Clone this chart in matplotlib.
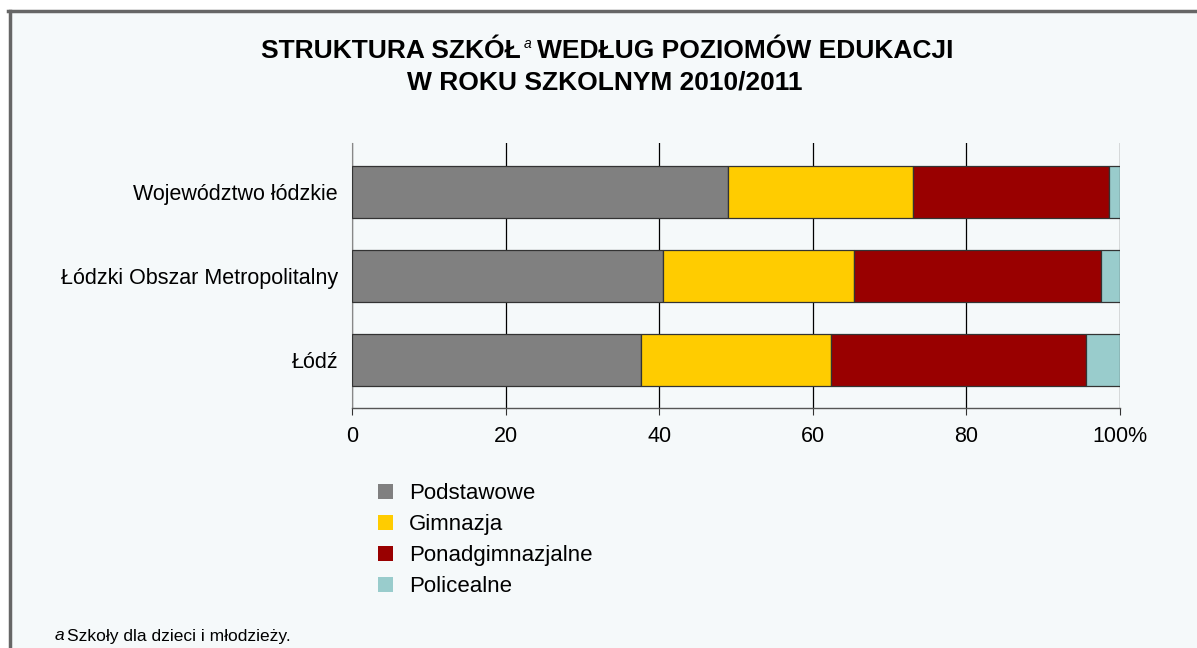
import matplotlib
matplotlib.use("Agg")
import matplotlib.pyplot as plt
from matplotlib.patches import Patch, Rectangle
from matplotlib.lines import Line2D

plt.rcParams["font.family"] = ["Liberation Sans", "DejaVu Sans"]

regions = ["Województwo łódzkie", "Łódzki Obszar Metropolitalny", "Łódź"]
series = ["Podstawowe", "Gimnazja", "Ponadgimnazjalne", "Policealne"]
podstawowe = [48.9, 40.5, 37.6]
gimnazja = [24.1, 24.8, 24.8]
ponadgimnazjalne = [25.6, 32.2, 33.2]
policealne = [1.4, 2.5, 4.4]
colors = ["#808080", "#FFCC00", "#990000", "#99CCCC"]
x_ticks = [0, 20, 40, 60, 80, 100]
x_tick_labels = ["0", "20", "40", "60", "80", "100%"]

BG = "#F5F9FA"

fig = plt.figure(figsize=(11.97, 6.48), dpi=100)
fig.patch.set_facecolor("white")

# panel background and grey frame (top + left only)
fig.patches.append(Rectangle((10 / 1197, 0), 1 - 10 / 1197, 1 - 12 / 648,
                             transform=fig.transFigure, facecolor=BG,
                             edgecolor="none", zorder=-2))
fig.lines.append(Line2D([9.5 / 1197, 9.5 / 1197], [0, 1 - 11 / 648],
                        transform=fig.transFigure, color="#666666", lw=2.5, zorder=-1))
fig.lines.append(Line2D([8 / 1197, 1], [1 - 11 / 648, 1 - 11 / 648],
                        transform=fig.transFigure, color="#666666", lw=2.5, zorder=-1))

ax = fig.add_axes([352 / 1197, 1 - 408 / 648, 768 / 1197, 265 / 648])
ax.set_facecolor(BG)

data = [podstawowe, gimnazja, ponadgimnazjalne, policealne]
ypos = list(range(len(regions)))
left = [0] * len(regions)
for vals, name, col in zip(data, series, colors):
    ax.barh(ypos, vals, left=left, height=0.62, color=col,
            edgecolor="#333333", linewidth=0.9, label=name, zorder=3)
    left = [l + v for l, v in zip(left, vals)]

ax.set_xlim(0, 100)
ax.set_ylim(2.575, -0.583)
ax.set_xticks(x_ticks)
ax.set_xticklabels(x_tick_labels, fontsize=15.5)
ax.set_yticks(ypos)
ax.set_yticklabels(regions, fontsize=15.5)
ax.tick_params(axis="y", length=0, pad=10)
ax.tick_params(axis="x", length=5, direction="out", pad=8, color="#333333")
ax.grid(axis="x", color="black", linewidth=0.9, zorder=1)
for s in ["top", "right"]:
    ax.spines[s].set_visible(False)
ax.spines["left"].set_color("#888888")
ax.spines["left"].set_linewidth(0.8)
ax.spines["bottom"].set_color("#555555")
ax.spines["bottom"].set_linewidth(1.0)

# title
fig.text(521 / 1197, 1 - 51 / 648, "STRUKTURA SZKÓŁ", ha="right", va="center",
         fontsize=19, fontweight="bold")
fig.text(528 / 1197, 1 - 44 / 648, "a", ha="center", va="center",
         fontsize=10, fontstyle="italic")
fig.text(537 / 1197, 1 - 51 / 648, "WEDŁUG POZIOMÓW EDUKACJI", ha="left",
         va="center", fontsize=19, fontweight="bold")
fig.text(605 / 1197, 1 - 83 / 648, "W ROKU SZKOLNYM 2010/2011", ha="center",
         va="center", fontsize=19, fontweight="bold")

handles = [Patch(facecolor=c, edgecolor="none", label=n) for c, n in zip(colors, series)]
fig.legend(handles=handles, loc="upper left", bbox_to_anchor=(367 / 1197, 1 - 472 / 648),
           frameon=False, fontsize=16, handlelength=0.68, handleheight=0.68,
           handletextpad=0.7, labelspacing=0.45, borderpad=0)

# footnote
fig.text(55 / 1197, 1 - 636 / 648, "a", ha="left", va="center", fontsize=12.5,
         fontstyle="italic")
fig.text(67 / 1197, 1 - 636 / 648, "Szkoły dla dzieci i młodzieży.", ha="left",
         va="center", fontsize=12.5)

fig.savefig("out.png", dpi=100, facecolor=fig.get_facecolor())
